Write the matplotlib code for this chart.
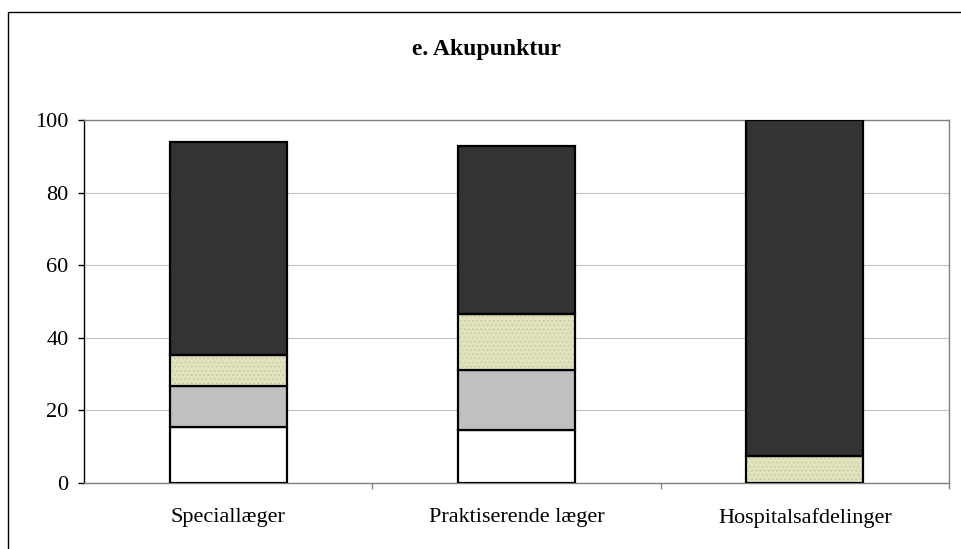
import numpy as np
import matplotlib.pyplot as plt
from matplotlib.patches import Rectangle

plt.rcParams['font.family'] = ['Liberation Serif', 'DejaVu Serif']

# data (percent)
categories = ["Speciallæger", "Praktiserende læger", "Hospitalsafdelinger"]
seg_white = [15.4, 14.6, 0.0]
seg_gray = [11.3, 16.5, 0.0]
seg_beige = [8.6, 15.4, 7.4]
seg_dark = [58.6, 46.3, 92.6]

fig = plt.figure(figsize=(9.62, 5.49), dpi=100)
ax = fig.add_axes([84 / 962, 66 / 549, 865 / 962, 363 / 549])

x = np.arange(len(categories))
w = 0.405
bottom = np.zeros(len(categories))
plt.rcParams['hatch.linewidth'] = 0.6
for vals, col in [(seg_white, "white"), (seg_gray, "#c0c0c0"),
                  (seg_beige, "#e2e2bc"), (seg_dark, "#333333")]:
    vals = np.array(vals)
    mask = vals > 0
    if col == "#e2e2bc":
        # stippled fill, drawn under the outline
        ax.bar(x[mask], vals[mask], w, bottom=bottom[mask], color=col,
               edgecolor="#c8c8a0", hatch="....", linewidth=0, zorder=3)
        ax.bar(x[mask], vals[mask], w, bottom=bottom[mask], color="none",
               edgecolor="black", linewidth=1.6, zorder=3.5)
    else:
        ax.bar(x[mask], vals[mask], w, bottom=bottom[mask], color=col,
               edgecolor="black", linewidth=1.6, zorder=3)
    bottom += vals

ax.set_xlim(-0.5, 2.5)
ax.set_ylim(0, 100)
ax.set_yticks(range(0, 101, 20))
ax.yaxis.grid(True, color="#c0c0c0", linewidth=0.8, zorder=0)
ax.set_axisbelow(True)

ax.set_xticks(x)
ax.set_xticklabels(categories, fontsize=16)
ax.tick_params(axis="x", which="major", length=0, pad=18)
ax.set_xticks([0.5, 1.5, 2.5], minor=True)
ax.tick_params(axis="x", which="minor", length=4, color="#808080", width=1)
ax.tick_params(axis="y", length=4, width=1, labelsize=16, pad=7)

for s in ["top", "right", "bottom"]:
    ax.spines[s].set_color("#808080")
ax.spines["left"].set_color("black")
for s in ax.spines.values():
    s.set_linewidth(1)

fig.text(487 / 962, 1 - 49 / 549, "e. Akupunktur", ha="center", va="center",
         fontsize=17, fontweight="bold")

# outer chart frame, running off the right and bottom edges
fig.patches.append(Rectangle((8 / 962, -0.1), 1.2, 1.1 - 12 / 549,
                             transform=fig.transFigure, fill=False,
                             edgecolor="black", linewidth=1))

fig.savefig("out.png", dpi=100)
